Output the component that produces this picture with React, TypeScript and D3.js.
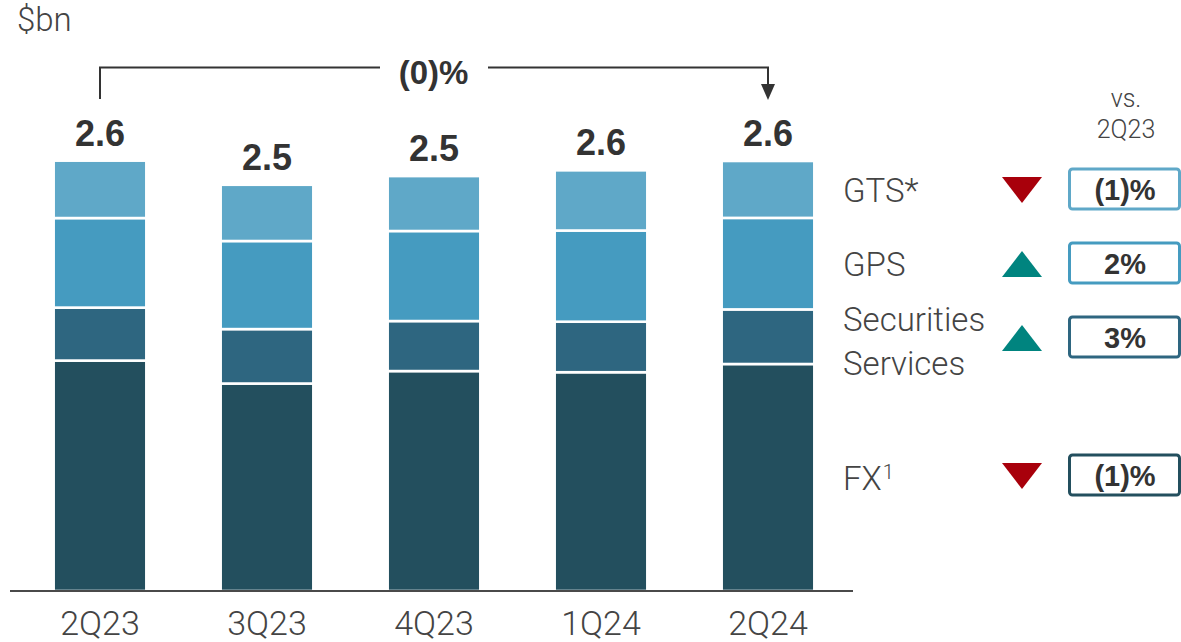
import React from 'react';
import * as d3 from 'd3';

// quarterly revenue, $bn, by product
const quarters = ['2Q23', '3Q23', '4Q23', '1Q24', '2Q24'];
const fx = [1.405, 1.265, 1.341, 1.334, 1.384];
const securitiesServices = [0.323, 0.332, 0.305, 0.308, 0.333];
const gps = [0.546, 0.537, 0.549, 0.556, 0.558];
const gts = [0.35, 0.343, 0.335, 0.367, 0.347];

const seriesKeys = ['fx', 'ss', 'gps', 'gts'];
const seriesColors: Record<string, string> = {
    fx: '#234F5E',
    ss: '#2E6680',
    gps: '#459BC0',
    gts: '#5FA8C8',
};

// legend rows, top to bottom
const legendKeys = ['gts', 'gps', 'ss', 'fx'];
const legendY = [190, 264, 338, 476];

const W = 1181;
const H = 642;
const LIGHT = 'Roboto, "Liberation Sans", Arial, sans-serif';
const BOLD = '"Liberation Sans", Arial, sans-serif';

const pct = (a: number, b: number) => {
    const v = (b / a - 1) * 100;
    const r = Math.abs(Math.round(v));
    return v < 0 ? `(${r})%` : `${r}%`;
};

const App: React.FC = () => {
    const rows = quarters.map((q, i) => ({
        q,
        fx: fx[i],
        ss: securitiesServices[i],
        gps: gps[i],
        gts: gts[i],
    }));
    const stacked = d3.stack<any>().keys(seriesKeys)(rows);
    const totals = rows.map(r => r.fx + r.ss + r.gps + r.gts);

    const x = d3.scaleBand<string>()
        .domain(quarters)
        .range([16.5, 851.5])
        .paddingInner(0.445)
        .paddingOuter(0.2225);
    const y = d3.scaleLinear().domain([0, 3]).range([591, 591 - 3 * 164]);

    const cx = (q: string) => (x(q) as number) + x.bandwidth() / 2;
    const first = quarters[0];
    const last = quarters[quarters.length - 1];
    const bracketY = 67.5;

    const series: Record<string, number[]> = { fx, ss: securitiesServices, gps, gts };

    return (
        <svg width={W} height={H} style={{ position: 'absolute', left: 0, top: 0 }}>
            <rect width={W} height={H} fill="#fff" />
            <text x={17} y={31} fontFamily={LIGHT} fontWeight={300} fontSize={33} fill="#444">$bn</text>

            {/* stacked bars */}
            {stacked.map(s => (
                <g key={s.key}>
                    {s.map((d, i) => (
                        <rect
                            key={i}
                            x={x(quarters[i])}
                            y={y(d[1])}
                            width={x.bandwidth()}
                            height={y(d[0]) - y(d[1])}
                            fill={seriesColors[s.key]}
                            stroke="#fff"
                            strokeWidth={2.6}
                        />
                    ))}
                </g>
            ))}

            {/* totals */}
            {quarters.map((q, i) => (
                <text key={q} x={cx(q)} y={y(totals[i]) - 15} textAnchor="middle"
                    fontFamily={BOLD} fontWeight={700} fontSize={36} fill="#333">
                    {d3.format('.1f')(totals[i])}
                </text>
            ))}

            {/* axis */}
            <line x1={10} x2={853} y1={591} y2={591} stroke="#4a4a4a" strokeWidth={2} />
            {quarters.map(q => (
                <text key={q} x={cx(q)} y={635} textAnchor="middle"
                    fontFamily={LIGHT} fontWeight={300} fontSize={34} fill="#444">{q}</text>
            ))}

            {/* growth bracket */}
            <path d={`M${cx(first)},99 V${bracketY} H380`} fill="none" stroke="#333" strokeWidth={2} />
            <path d={`M488,${bracketY} H${cx(last)} V86`} fill="none" stroke="#333" strokeWidth={2} />
            <path d={`M${cx(last) - 7},84 L${cx(last) + 7},84 L${cx(last)},100 Z`} fill="#333" />
            <text x={433.5} y={84} textAnchor="middle" fontFamily={BOLD} fontWeight={700}
                fontSize={33} fill="#333">
                {pct(totals[0], totals[totals.length - 1])}
            </text>

            {/* legend / change vs 2Q23 */}
            <text x={1126} y={107} textAnchor="middle" fontFamily={LIGHT} fontWeight={300} fontSize={25} fill="#444">vs.</text>
            <text x={1126} y={138} textAnchor="middle" fontFamily={LIGHT} fontWeight={300} fontSize={25} fill="#444">2Q23</text>

            {legendKeys.map((k, i) => {
                const vals = series[k];
                const a = vals[0];
                const b = vals[vals.length - 1];
                const up = b >= a;
                const ly = legendY[i];
                const tri = up
                    ? `M1002,${ly + 13} L1042,${ly + 13} L1022,${ly - 13} Z`
                    : `M1002,${ly - 13} L1042,${ly - 13} L1022,${ly + 13} Z`;
                return (
                    <g key={k}>
                        {k === 'gts' && (
                            <text x={843} y={ly + 12} fontFamily={LIGHT} fontWeight={300} fontSize={33} fill="#444">GTS*</text>
                        )}
                        {k === 'gps' && (
                            <text x={843} y={ly + 12} fontFamily={LIGHT} fontWeight={300} fontSize={33} fill="#444">GPS</text>
                        )}
                        {k === 'ss' && (
                            <text fontFamily={LIGHT} fontWeight={300} fontSize={33} fill="#444">
                                <tspan x={843} y={ly - 7}>Securities</tspan>
                                <tspan x={843} y={ly + 37}>Services</tspan>
                            </text>
                        )}
                        {k === 'fx' && (
                            <text x={843} y={ly + 14} fontFamily={LIGHT} fontWeight={300} fontSize={33} fill="#444">
                                FX<tspan fontSize={20} dx={1} dy={-11}>1</tspan>
                            </text>
                        )}
                        <path d={tri} fill={up ? '#00847F' : '#A8000B'} />
                        <rect x={1069.5} y={ly - 21} width={110} height={40} rx={3}
                            fill="#fff" stroke={seriesColors[k]} strokeWidth={3} />
                        <text x={1125} y={ly + 10} textAnchor="middle" fontFamily={BOLD} fontWeight={700}
                            fontSize={29} fill="#333">{pct(a, b)}</text>
                    </g>
                );
            })}
        </svg>
    );
};

export default App;
